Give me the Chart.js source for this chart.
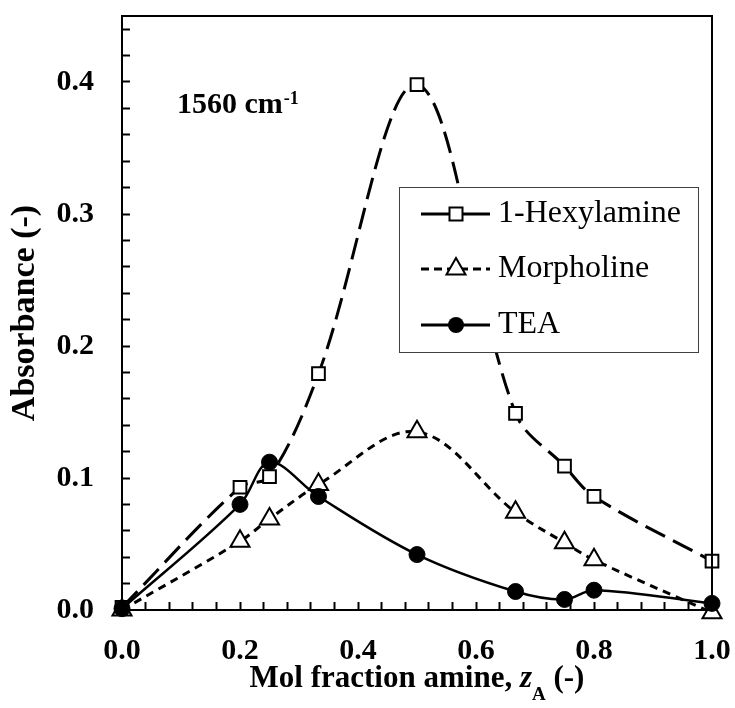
<!DOCTYPE html>
<html lang="en">
<head>
<meta charset="UTF-8">
<title>Absorbance vs mol fraction amine</title>
<script src="https://cdn.jsdelivr.net/npm/chart.js"></script>
<style>
  html, body { margin: 0; padding: 0; background: #fff; }
  #chart { display: block; }
</style>
</head>
<body>
<canvas id="chart" width="735" height="708"></canvas>
<script>
// mol fraction amine, zA
const zA = [0, 0.2, 0.25, 0.333, 0.5, 0.667, 0.75, 0.8, 1.0];

// absorbance at 1560 cm-1
const hexylamine = [0.002, 0.093, 0.101, 0.179, 0.398, 0.149, 0.109, 0.086, 0.037];
const morpholine = [0.000, 0.052, 0.069, 0.095, 0.135, 0.074, 0.051, 0.038, -0.002];
const tea        = [0.001, 0.080, 0.112, 0.086, 0.042, 0.014, 0.008, 0.015, 0.005];

// labelled ticks
const xLabels = [0, 0.2, 0.4, 0.6, 0.8, 1.0];
const yLabels = [0, 0.1, 0.2, 0.3, 0.4];

const SERIF = '"Liberation Serif", "Times New Roman", serif';

function pts(ys) {
  return zA.map((x, i) => ({ x: x, y: ys[i] }));
}

function isLabel(list, v) {
  return list.some(t => Math.abs(t - v) < 1e-6);
}

// keep the plot box where it is in the original
function fixPadding(scale) {
  scale.paddingTop = 0;
  scale.paddingBottom = 0;
  scale.paddingLeft = 0;
  scale.paddingRight = 0;
}

// box round the plot, annotation, x title and legend
const extras = {
  id: 'extras',
  afterDraw(chart) {
    const ctx = chart.ctx;
    const a = chart.chartArea;
    ctx.save();

    // frame
    ctx.strokeStyle = '#000';
    ctx.lineWidth = 2;
    ctx.strokeRect(a.left, a.top, a.right - a.left, a.bottom - a.top);

    // 1560 cm-1
    ctx.fillStyle = '#000';
    ctx.textBaseline = 'alphabetic';
    ctx.textAlign = 'left';
    ctx.font = 'bold 30px ' + SERIF;
    ctx.fillText('1560 cm', 177, 113);
    const w1 = ctx.measureText('1560 cm').width;
    ctx.font = 'bold 18px ' + SERIF;
    ctx.fillText('-1', 177 + w1 + 1, 104);

    // x axis title with italic z and subscript A
    const parts = [
      { t: 'Mol fraction amine, ', f: 'bold 31px ' + SERIF, dy: 0 },
      { t: 'z', f: 'italic bold 31px ' + SERIF, dy: 0 },
      { t: 'A', f: 'bold 19px ' + SERIF, dy: 13 },
      { t: ' (-)', f: 'bold 31px ' + SERIF, dy: 0 }
    ];
    let total = 0;
    parts.forEach(p => { ctx.font = p.f; p.w = ctx.measureText(p.t).width; total += p.w; });
    let x = (a.left + a.right) / 2 - total / 2;
    parts.forEach(p => {
      ctx.font = p.f;
      ctx.fillText(p.t, x, 687 + p.dy);
      x += p.w;
    });

    // legend
    const box = { l: 399, t: 187, r: 698, b: 352 };
    ctx.fillStyle = '#fff';
    ctx.fillRect(box.l, box.t, box.r - box.l, box.b - box.t);
    ctx.strokeStyle = '#404040';
    ctx.lineWidth = 1;
    ctx.strokeRect(box.l + 0.5, box.t + 0.5, box.r - box.l, box.b - box.t);

    const items = [
      { name: '1-Hexylamine', y: 214, dash: [], lw: 3, mark: 'rect' },
      { name: 'Morpholine', y: 269, dash: [8, 5], lw: 3, mark: 'triangle' },
      { name: 'TEA', y: 325, dash: [], lw: 3, mark: 'circle' }
    ];
    items.forEach(it => {
      ctx.strokeStyle = '#000';
      ctx.lineWidth = it.lw;
      ctx.setLineDash(it.dash);
      ctx.beginPath();
      ctx.moveTo(421, it.y);
      ctx.lineTo(490, it.y);
      ctx.stroke();
      ctx.setLineDash([]);
      ctx.lineWidth = 2;
      const cx = 456, cy = it.y;
      ctx.beginPath();
      if (it.mark === 'rect') {
        ctx.rect(cx - 6.5, cy - 6.5, 13, 13);
        ctx.fillStyle = '#fff';
        ctx.fill();
        ctx.stroke();
      } else if (it.mark === 'triangle') {
        const r = 11;
        ctx.moveTo(cx, cy - r);
        ctx.lineTo(cx + r * Math.sin(2 * Math.PI / 3), cy - r * Math.cos(2 * Math.PI / 3));
        ctx.lineTo(cx + r * Math.sin(4 * Math.PI / 3), cy - r * Math.cos(4 * Math.PI / 3));
        ctx.closePath();
        ctx.fillStyle = '#fff';
        ctx.fill();
        ctx.stroke();
      } else {
        ctx.arc(cx, cy, 8, 0, Math.PI * 2);
        ctx.fillStyle = '#000';
        ctx.fill();
      }
      ctx.fillStyle = '#000';
      ctx.font = '32px ' + SERIF;
      ctx.textBaseline = 'middle';
      ctx.fillText(it.name, 498, it.y);
    });

    ctx.restore();
  }
};

new Chart(document.getElementById('chart'), {
  type: 'line',
  data: {
    datasets: [
      {
        label: 'TEA',
        data: pts(tea),
        order: 1,
        borderColor: '#000',
        borderWidth: 2.5,
        tension: 0.35,
        pointStyle: 'circle',
        pointRadius: 8,
        pointBackgroundColor: '#000',
        pointBorderColor: '#000',
        pointBorderWidth: 1,
        clip: false
      },
      {
        label: 'Morpholine',
        data: pts(morpholine),
        order: 2,
        borderColor: '#000',
        borderWidth: 3,
        borderDash: [8, 6],
        tension: 0.35,
        pointStyle: 'triangle',
        pointRadius: 11,
        pointBackgroundColor: '#fff',
        pointBorderColor: '#000',
        pointBorderWidth: 2,
        clip: false
      },
      {
        label: '1-Hexylamine',
        data: pts(hexylamine),
        order: 3,
        borderColor: '#000',
        borderWidth: 3,
        borderDash: [22, 9],
        tension: 0.35,
        pointStyle: 'rect',
        pointRadius: 9,
        pointBackgroundColor: '#fff',
        pointBorderColor: '#000',
        pointBorderWidth: 2,
        clip: false
      }
    ]
  },
  options: {
    responsive: false,
    animation: false,
    layout: { padding: { top: 16, right: 23, left: 0, bottom: 0 } },
    plugins: {
      legend: { display: false },
      tooltip: { enabled: false }
    },
    scales: {
      x: {
        type: 'linear',
        min: 0,
        max: 1,
        afterFit(scale) { scale.height = 98; fixPadding(scale); },
        border: { display: true, color: '#000', width: 2 },
        grid: { drawOnChartArea: false, drawTicks: true, tickLength: -8, tickWidth: 2, tickColor: '#000' },
        ticks: {
          stepSize: 0.04,
          autoSkip: false,
          maxRotation: 0,
          includeBounds: false,
          padding: 31,
          color: '#000',
          font: { family: SERIF, size: 30, weight: 'bold' },
          callback: v => isLabel(xLabels, v) ? v.toFixed(1) : ''
        }
      },
      y: {
        type: 'linear',
        min: 0,
        max: 0.45,
        afterFit(scale) { scale.width = 122; fixPadding(scale); },
        border: { display: true, color: '#000', width: 2 },
        grid: { drawOnChartArea: false, drawTicks: true, tickLength: -8, tickWidth: 2, tickColor: '#000' },
        ticks: {
          stepSize: 0.02,
          autoSkip: false,
          includeBounds: false,
          padding: 36,
          color: '#000',
          font: { family: SERIF, size: 30, weight: 'bold' },
          callback: v => isLabel(yLabels, v) ? v.toFixed(1) : ''
        },
        title: {
          display: true,
          text: 'Absorbance (-)',
          color: '#000',
          padding: { top: 5, bottom: 0 },
          font: { family: SERIF, size: 34, weight: 'bold' }
        }
      }
    }
  },
  plugins: [extras]
});
</script>
</body>
</html>
